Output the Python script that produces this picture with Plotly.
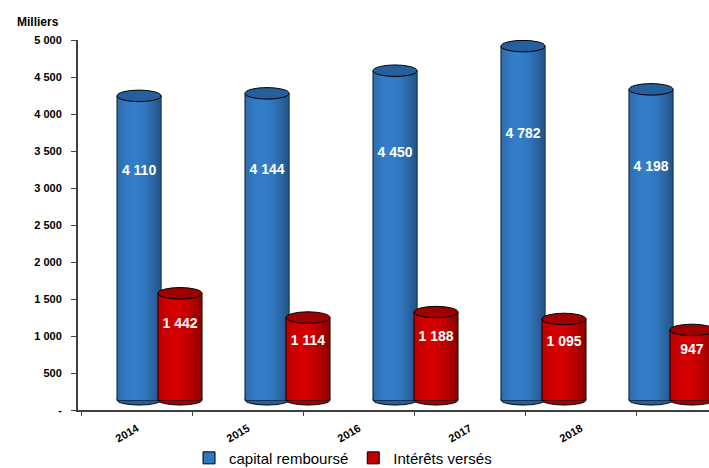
import plotly.graph_objects as go
import math

years = ["2014", "2015", "2016", "2017", "2018"]
capital = [4110, 4144, 4450, 4782, 4198]
interets = [1442, 1114, 1188, 1095, 947]
y_tickvals = [0, 500, 1000, 1500, 2000, 2500, 3000, 3500, 4000, 4500, 5000]
y_ticktext = ["-", "500", "1 000", "1 500", "2 000", "2 500", "3 000", "3 500", "4 000", "4 500", "5 000"]
series_names = ["capital remboursé", "Intérêts versés"]

FONT = "Liberation Sans, Arial, sans-serif"
W = 0.344
series = [
    dict(name=series_names[0], vals=capital, off=-0.328, base=(52, 126, 202), cap="#26609c", legend="#2f77c0", lab=0.75),
    dict(name=series_names[1], vals=interets, off=-0.008, base=(212, 0, 0), cap="#9c0000", legend="#c00000", lab=0.71),
]

def shade(rgb, t):
    f = 0.64 + 0.36 * math.cos((t - 0.38) * math.pi / 1.3)
    return "rgb(%d,%d,%d)" % tuple(int(c * f) for c in rgb)

fig = go.Figure()
xs = list(range(len(years)))
shapes = []
N = 14
for s in series:
    fig.add_trace(go.Bar(x=xs, y=s["vals"], xaxis="x2", yaxis="y2", name=s["name"],
                         offset=s["off"], width=W,
                         marker=dict(color=s["legend"], line=dict(color="black", width=1)),
                         hoverinfo="skip"))
    inset = 0.006
    sw = (W - 2 * inset) / N
    for k in range(N):
        t = (k + 0.5) / N
        fig.add_trace(go.Bar(x=xs, y=s["vals"], xaxis="x2", yaxis="y2", showlegend=False,
                             offset=s["off"] + inset + k * sw, width=sw * (1.35 if k < N - 1 else 1.0),
                             marker=dict(color=shade(s["base"], t), line=dict(width=0)),
                             hoverinfo="skip"))
    for i, v in enumerate(s["vals"]):
        x0 = i + s["off"]
        shapes.append(dict(type="circle", xref="x2", yref="y2", layer="above",
                           x0=x0, x1=x0 + W, y0=v - 78, y1=v + 78,
                           fillcolor=s["cap"], line=dict(color="black", width=1)))
        shapes.append(dict(type="circle", xref="x2", yref="y2", layer="below",
                           x0=x0, x1=x0 + W, y0=-68, y1=68,
                           fillcolor=shade(s["base"], 0.9), line=dict(color="black", width=1)))

for s in series:
    fig.add_trace(go.Scatter(x=[i + s["off"] + W / 2 for i in xs], y=[v * s["lab"] for v in s["vals"]],
                             xaxis="x2", yaxis="y2", mode="text", showlegend=False,
                             text=[f"{v:,}".replace(",", " ") for v in s["vals"]],
                             textfont=dict(family=FONT, size=14, color="white", weight="bold"),
                             hoverinfo="skip"))

# category axis carrying the year labels
fig.add_trace(go.Scatter(x=years, y=[None] * 5, xaxis="x", yaxis="y", showlegend=False, hoverinfo="skip"))

fig.update_layout(
    width=709, height=468,
    margin=dict(l=78, r=0, t=40, b=58, autoexpand=False),
    paper_bgcolor="white", plot_bgcolor="white",
    barmode="overlay",
    shapes=shapes,
    xaxis=dict(type="category", categoryorder="array", categoryarray=years,
               range=[-0.53, 5.155], tickson="boundaries", ticks="outside", ticklen=4,
               tickcolor="#404040", showline=True, linecolor="#404040", linewidth=2,
               showgrid=False, zeroline=False, tickangle=-30, ticklabelstandoff=6,
               automargin=False,
               tickfont=dict(family=FONT, size=11, color="black", weight="bold")),
    yaxis=dict(range=[0, 5000], tickvals=y_tickvals, ticktext=y_ticktext,
               ticks="outside", ticklen=5, tickcolor="#404040", showline=True,
               linecolor="#404040", linewidth=2, showgrid=False, zeroline=False,
               ticklabelstandoff=7, automargin=False,
               tickfont=dict(family=FONT, size=11, color="black", weight="bold")),
    xaxis2=dict(overlaying="x", range=[-0.633, 4.297], visible=False),
    yaxis2=dict(overlaying="y", range=[-135, 4865], visible=False),
    legend=dict(orientation="h", x=0.42, xanchor="center", y=-0.13, yanchor="middle",
                font=dict(family=FONT, size=15, color="black"), itemwidth=30,
                bgcolor="rgba(0,0,0,0)"),
    annotations=[dict(text="Milliers", xref="paper", yref="paper", x=-0.063, y=1.049,
                      xanchor="center", yanchor="middle", showarrow=False,
                      font=dict(family=FONT, size=12, color="black", weight="bold"))],
    showlegend=True,
)

fig.write_html("out.html")
